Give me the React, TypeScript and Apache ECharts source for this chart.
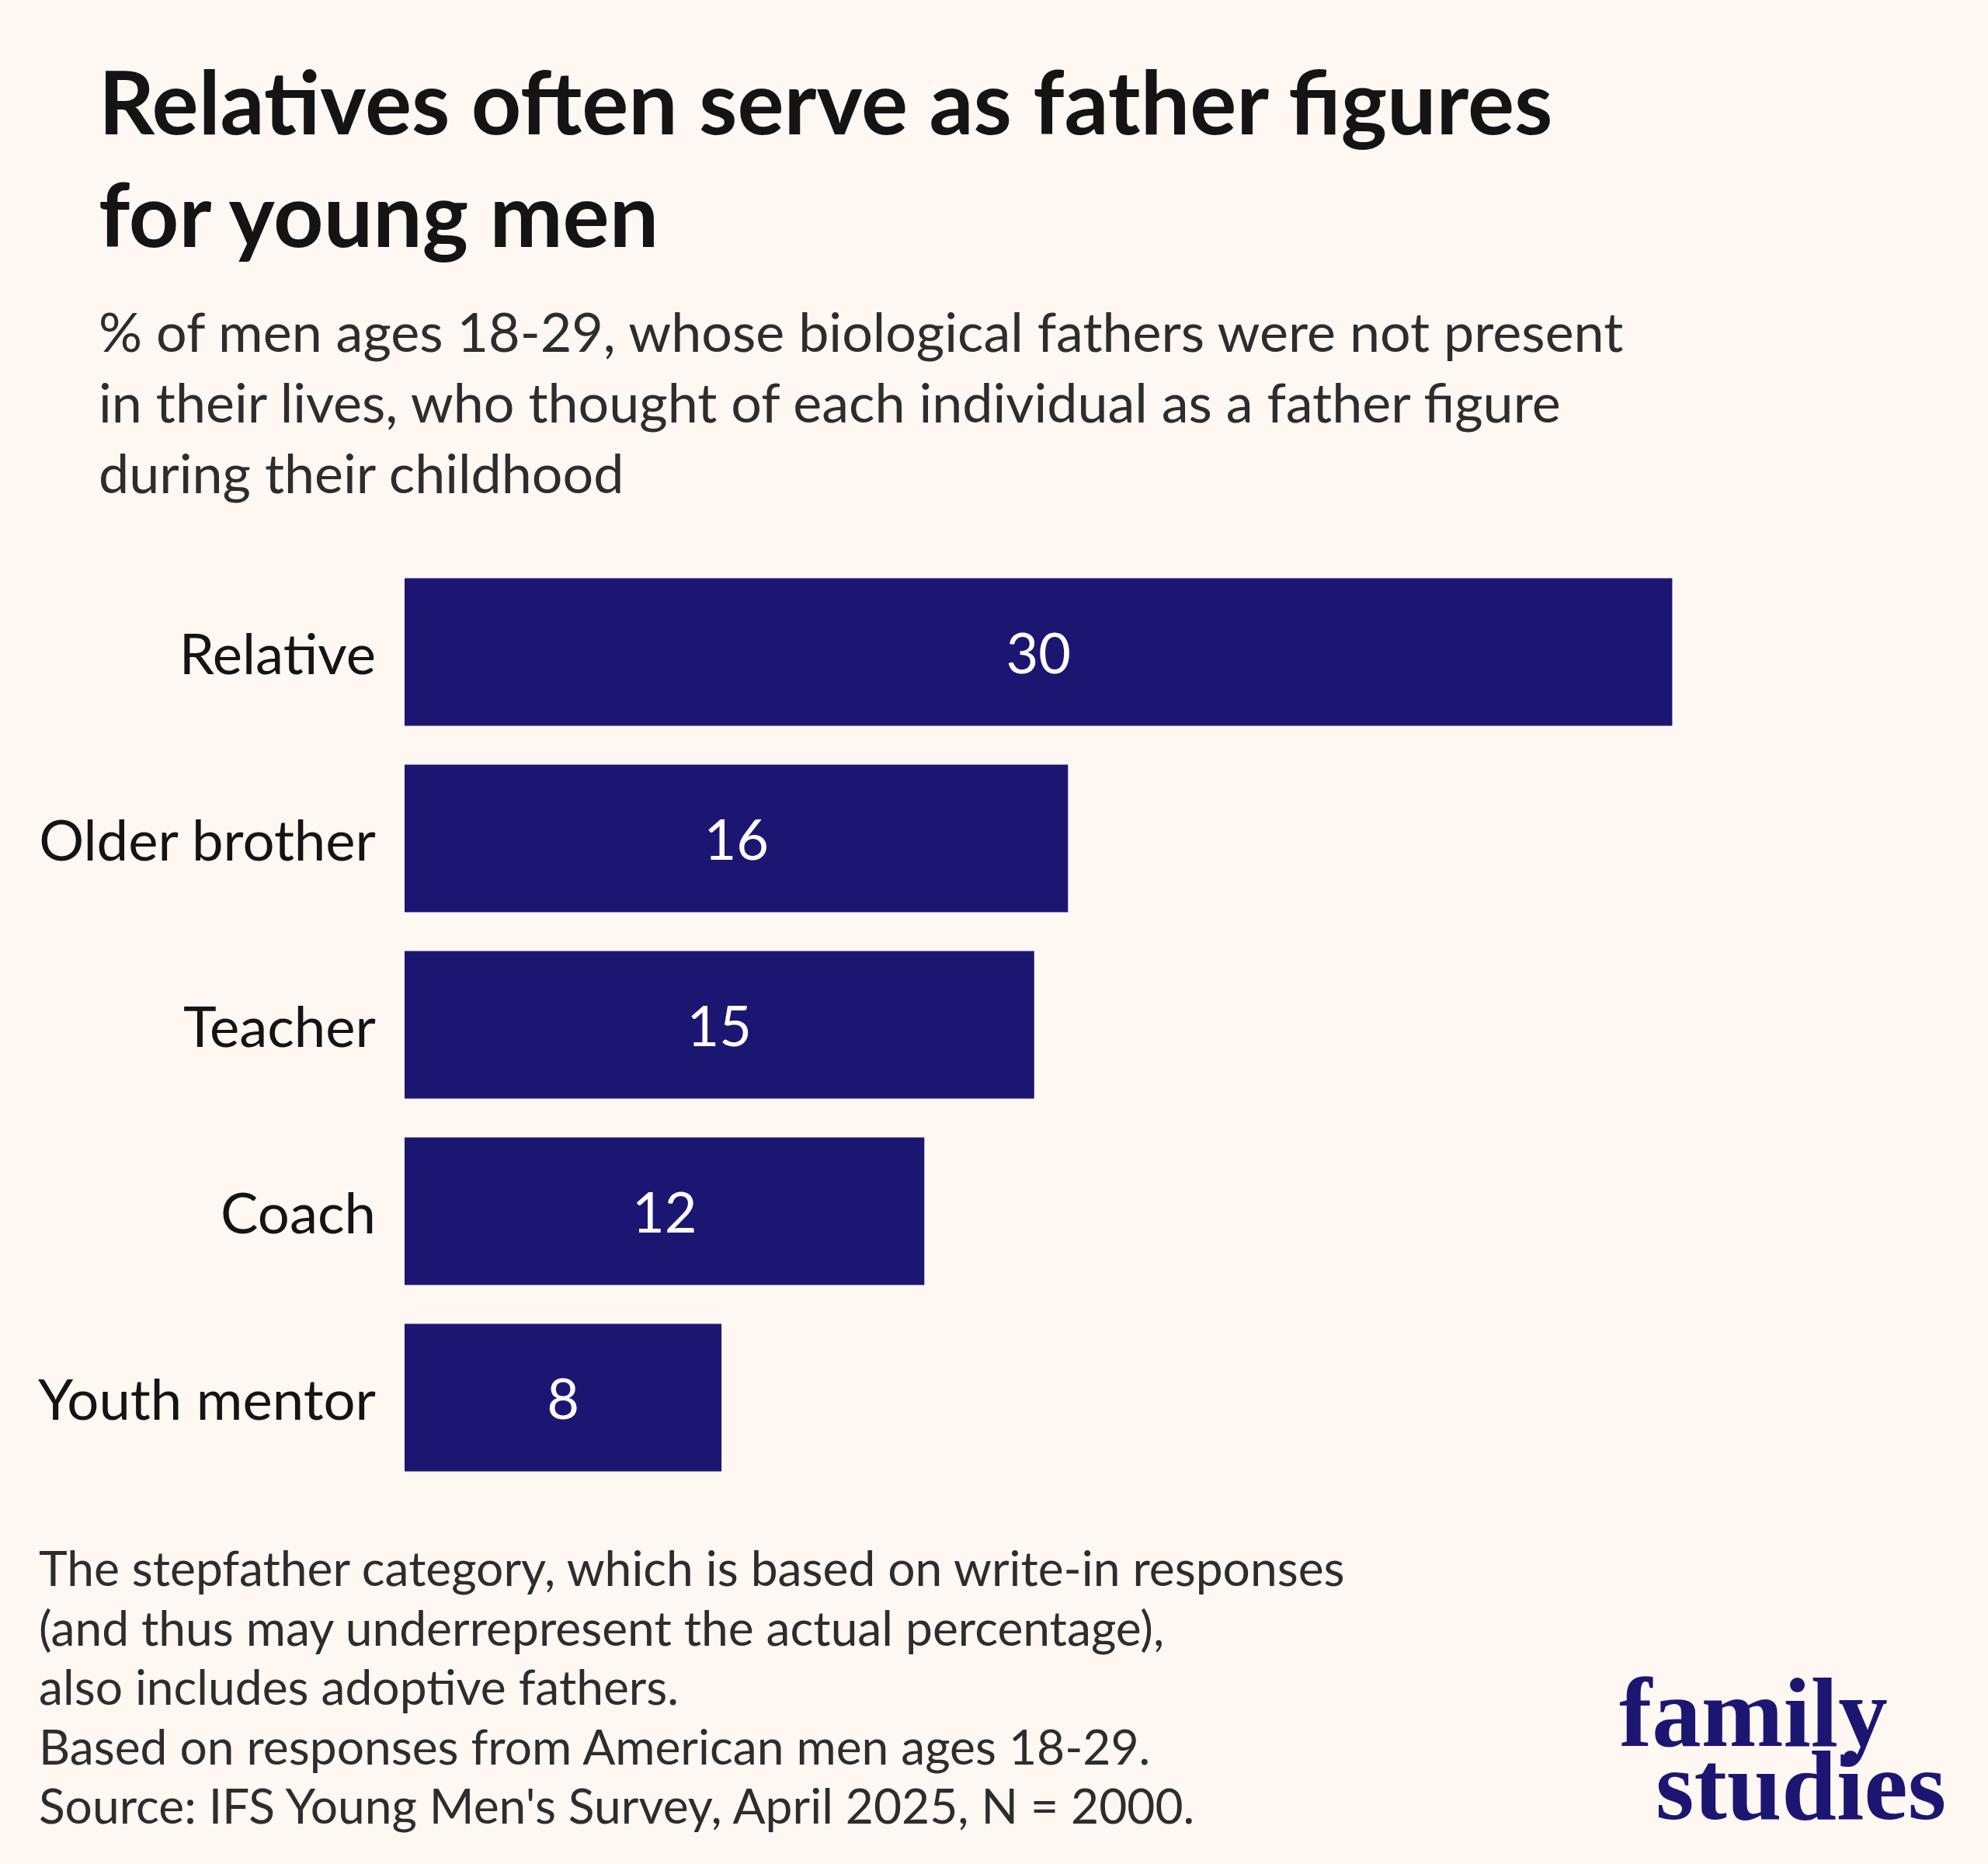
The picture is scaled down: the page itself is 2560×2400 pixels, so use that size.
import React, { useEffect, useRef } from "react";
import * as echarts from "echarts";

const categories = ["Relative", "Older brother", "Teacher", "Coach", "Youth mentor"];
const values = [30, 15.7, 14.9, 12.3, 7.5];
const titleLines = ["Relatives often serve as father figures", "for young men"];
const subtitleLines = [
  "% of men ages 18-29, whose biological fathers were not present",
  "in their lives, who thought of each individual as a father figure",
  "during their childhood",
];
const noteLines = [
  "The stepfather category, which is based on write-in responses",
  "(and thus may underrepresent the actual percentage),",
  "also includes adoptive fathers.",
  "Based on responses from American men ages 18-29.",
  "Source: IFS Young Men's Survey, April 2025, N = 2000.",
];
const logoLines = ["family", "studies"];

const BG = "#FFF7F2";
const NAVY = "#1C1673";

export default function App() {
  const ref = useRef<HTMLDivElement>(null);
  useEffect(() => {
    if (!ref.current) return;
    const chart = echarts.init(ref.current, undefined, { renderer: "svg" });
    const logoToken = {
      fontFamily: "Liberation Serif",
      fontWeight: "bold",
      fontSize: 127,
      lineHeight: 94,
      fill: NAVY,
    };
    const option = {
      animation: false,
      backgroundColor: BG,
      grid: { left: 521, top: 719.4, width: 1632.4, height: 1200, containLabel: false },
      xAxis: {
        type: "value",
        min: 0,
        max: 30,
        show: false,
        splitLine: { show: false },
      },
      yAxis: {
        type: "category",
        data: categories,
        inverse: true,
        axisLine: { show: false },
        axisTick: { show: false },
        axisLabel: {
          margin: 37,
          fontFamily: "Lato",
          fontSize: 72.5,
          color: "#141414",
        },
      },
      series: [
        {
          type: "bar",
          data: values,
          barWidth: 190,
          itemStyle: { color: NAVY },
          label: {
            show: true,
            position: "inside",
            fontFamily: "Lato",
            fontSize: 72,
            color: "#FFFFFF",
            formatter: (p: any) => String(Math.round(p.value)),
          },
        },
      ],
      graphic: [
        {
          type: "text",
          left: 127,
          top: 57,
          style: {
            text: titleLines.join("\n"),
            font: "bold 112.5px Lato",
            lineHeight: 145,
            fill: "#141414",
          },
        },
        {
          type: "text",
          left: 127,
          top: 380,
          style: {
            text: subtitleLines.join("\n"),
            font: "70px Lato",
            lineHeight: 91,
            fill: "#2D2D2D",
          },
        },
        {
          type: "text",
          left: 50,
          top: 1980,
          style: {
            text: noteLines.join("\n"),
            font: "62.3px Lato",
            lineHeight: 76.5,
            fill: "#2D2D2D",
          },
        },
        {
          type: "text",
          x: 2085,
          y: 2158,
          style: {
            text: "{a|" + logoLines[0] + "}\n{b|" + logoLines[1] + "}",
            align: "left",
            verticalAlign: "top",
            fill: NAVY,
            rich: {
              a: { ...logoToken },
              b: { ...logoToken, padding: [0, 0, 0, 47] },
            },
          },
        },
      ],
    };
    chart.setOption(option as any);
    return () => chart.dispose();
  }, []);
  return (
    <div
      ref={ref}
      style={{ position: "absolute", left: 0, top: 0, width: 2560, height: 2400, background: BG }}
    />
  );
}
